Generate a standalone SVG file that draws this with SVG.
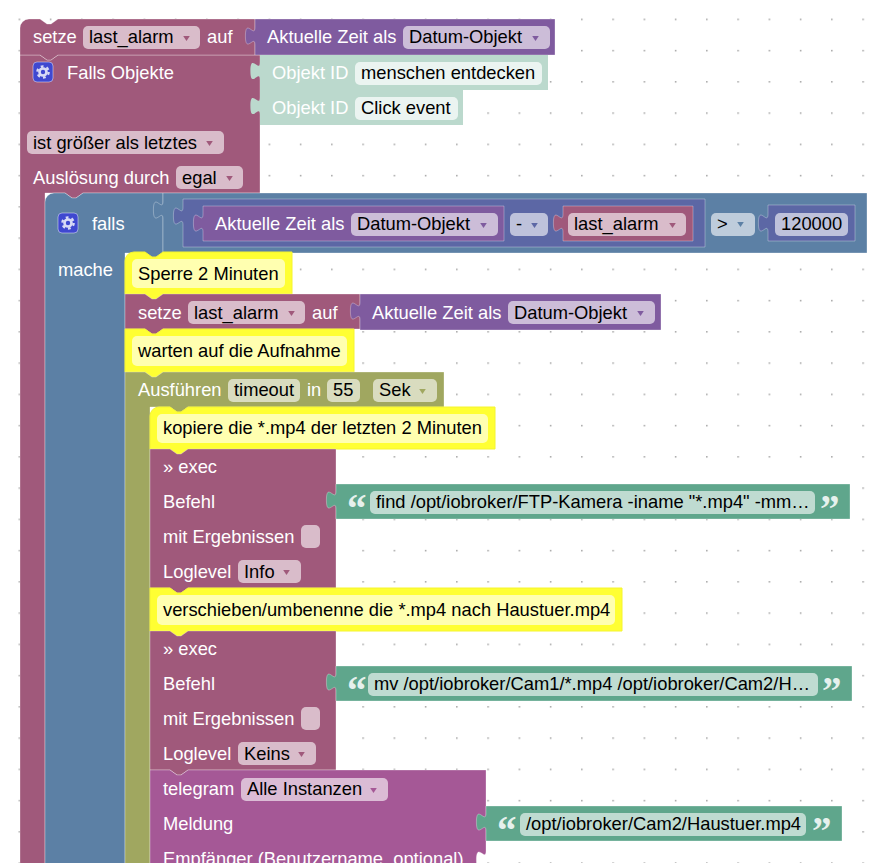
<svg xmlns="http://www.w3.org/2000/svg" width="889" height="863" viewBox="0 0 889 863">
<style>
text{font-family:"Liberation Sans",Arial,sans-serif;font-size:18.33px}
.w{fill:#fff}.k{fill:#000}
.b{stroke:#fff;stroke-opacity:.3;stroke-width:1}
.m{fill:#a0597b}.p{fill:#7f5b9f}.l{fill:#bbd9cd}.g{fill:#5fa68c}.u{fill:#5c80a5}.t{fill:#5c67a5}.o{fill:#a0a760}.v{fill:#a55896}
.y{fill:#ffff33;stroke:#f4f430;stroke-width:1}
.f{fill:#fff;fill-opacity:.6}
.c{fill:#ffffb0}
text.q{font-family:"Liberation Serif",serif;font-weight:bold;font-size:39px;fill:#fff;fill-opacity:.85}
.gb{fill:#3f48d0;stroke:#fff;stroke-opacity:.45}
</style>
<defs>
<pattern id="grid" patternUnits="userSpaceOnUse" x="18.6" y="18.6" width="31.25" height="31.25"><rect width="1.5" height="1.5" fill="#a0a0a0"/></pattern>
<g id="gear"><rect x="0" y="0" width="20" height="20" rx="4" class="gb"/><circle cx="10" cy="10" r="3.5" fill="none" stroke="#fff" stroke-opacity=".8" stroke-width="2.6"/><circle cx="10" cy="10" r="5.7" fill="none" stroke="#fff" stroke-opacity=".8" stroke-width="2.2" stroke-dasharray="2.8 3.17"/></g>
<path id="arr" d="M1.2,1h6.6l-3.3,5z"/>
</defs>
<rect width="889" height="863" fill="#fff"/>
<rect x="18" y="18" width="871" height="845" fill="url(#grid)"/>

<g id="connectors"></g>

<g id="falls-objekte">
<path class="m b" d="M20,55H40l7,5 4,0 7,-5H260V193H83l-7,5 -4,0 -7,-5H45V870H20Z"/>
<use href="#gear" x="33" y="62"/>
<text class="w" x="67" y="79">Falls Objekte</text>
<rect class="f" x="27" y="131" width="197" height="23" rx="5"/>
<text class="k" x="33" y="149">ist größer als letztes</text>
<use href="#arr" x="205" y="140" fill="#a0597b"/>
<text class="w" x="33" y="184">Auslösung durch</text>
<rect class="f" x="176" y="166" width="67" height="23" rx="5"/>
<text class="k" x="182" y="184">egal</text>
<use href="#arr" x="225" y="175" fill="#a0597b"/>
</g>

<g id="setze-1">
<path class="m b" d="M29,19H40l7,5 4,0 7,-5H255V55H58l-7,5 -4,0 -7,-5H20V28A9,9 0 0 1 29,19Z"/>
<text class="w" x="33" y="43">setze</text>
<rect class="f" x="83" y="26" width="117" height="23" rx="5"/>
<text class="k" x="89" y="43">last_alarm</text>
<use href="#arr" x="182" y="35" fill="#a0597b"/>
<text class="w" x="207" y="43">auf</text>
</g>
<g id="zeit-1">
<path class="p b" d="M255,19H555V55H255V45c0,-11.5 -9.6,9.6 -9.6,-9 s9.6,3 9.6,-9Z"/>
<text class="w" x="267" y="43">Aktuelle Zeit als</text>
<rect class="f" x="403" y="26" width="147" height="23" rx="5"/>
<text class="k" x="409" y="43">Datum-Objekt</text>
<use href="#arr" x="531" y="35" fill="#7f5b9f"/>
</g>

<g id="objekt-1">
<path class="l" d="M260,55H548V90H260V80c0,-11.5 -9.6,9.6 -9.6,-9 s9.6,3 9.6,-9Z"/>
<text class="w" x="272" y="79">Objekt ID</text>
<rect x="355" y="62" width="187" height="23" rx="5" fill="#ebf4f1"/>
<text class="k" x="361" y="79">menschen entdecken</text>
</g>
<g id="objekt-2">
<path class="l" d="M260,90H463V125H260V115c0,-11.5 -9.6,9.6 -9.6,-9 s9.6,3 9.6,-9Z"/>
<text class="w" x="272" y="114">Objekt ID</text>
<rect x="355" y="97" width="103" height="23" rx="5" fill="#ebf4f1"/>
<text class="k" x="361" y="114">Click event</text>
</g>

<g id="falls">
<path class="u b" d="M54,193H65l7,5 4,0 7,-5H163V253H163l-7,5 -4,0 -7,-5H125V870H45V202A9,9 0 0 1 54,193Z"/>
<use href="#gear" x="58" y="213"/>
<text class="w" x="92" y="230">falls</text>
<text class="w" x="58" y="276">mache</text>
</g>
<g id="vergleich">
<path class="u b" d="M163,193H867V253H163V219c0,-11.5 -9.6,9.6 -9.6,-9 s9.6,3 9.6,-9Z"/>
<path class="t b" d="M183,199H705V247H183V225c0,-11.5 -9.6,9.6 -9.6,-9 s9.6,3 9.6,-9Z"/>
<path class="p b" d="M203,206H504V241H203V232c0,-11.5 -9.6,9.6 -9.6,-9 s9.6,3 9.6,-9Z"/>
<text class="w" x="215" y="230">Aktuelle Zeit als</text>
<rect class="f" x="351" y="213" width="147" height="23" rx="5"/>
<text class="k" x="357" y="230">Datum-Objekt</text>
<use href="#arr" x="479" y="222" fill="#7f5b9f"/>
<rect class="f" x="510" y="213" width="38" height="23" rx="5"/>
<text class="k" x="516" y="230">-</text>
<use href="#arr" x="530" y="222" fill="#5c67a5"/>
<path class="m b" d="M563,206H693V241H563V232c0,-11.5 -9.6,9.6 -9.6,-9 s9.6,3 9.6,-9Z"/>
<rect class="f" x="568" y="213" width="118" height="23" rx="5"/>
<text class="k" x="574" y="230">last_alarm</text>
<use href="#arr" x="668" y="222" fill="#a0597b"/>
<rect class="f" x="711" y="213" width="44" height="23" rx="5"/>
<text class="k" x="717" y="230">&gt;</text>
<use href="#arr" x="736" y="221" fill="#5c80a5"/>
<path class="t b" d="M768,205H855V241H768V232c0,-11.5 -9.6,9.6 -9.6,-9 s9.6,3 9.6,-9Z"/>
<rect class="f" x="775" y="213" width="73" height="23" rx="5"/>
<text class="k" x="781" y="230">120000</text>
</g>

<g id="kommentar-1">
<path class="y" d="M134,252H145l7,5 4,0 7,-5H292V294H163l-7,5 -4,0 -7,-5H125V261A9,9 0 0 1 134,252Z"/>
<rect class="c" x="132" y="259" width="153" height="29" rx="5"/>
<text class="k" x="138" y="279.5">Sperre 2 Minuten</text>
</g>

<g id="setze-2">
<path class="m b" d="M125,294H145l7,5 4,0 7,-5H360V329H163l-7,5 -4,0 -7,-5H125Z"/>
<text class="w" x="138" y="318.5">setze</text>
<rect class="f" x="188" y="301" width="117" height="23" rx="5"/>
<text class="k" x="194" y="318.5">last_alarm</text>
<use href="#arr" x="287" y="310" fill="#a0597b"/>
<text class="w" x="312" y="318.5">auf</text>
</g>
<g id="zeit-2">
<path class="p b" d="M360,294H661V330H360V320c0,-11.5 -9.6,9.6 -9.6,-9 s9.6,3 9.6,-9Z"/>
<text class="w" x="372" y="318.5">Aktuelle Zeit als</text>
<rect class="f" x="508" y="301" width="147" height="23" rx="5"/>
<text class="k" x="514" y="318.5">Datum-Objekt</text>
<use href="#arr" x="636" y="310" fill="#7f5b9f"/>
</g>

<g id="kommentar-2">
<path class="y" d="M125,329H145l7,5 4,0 7,-5H354V372H163l-7,5 -4,0 -7,-5H125Z"/>
<rect class="c" x="132" y="336" width="215" height="30" rx="5"/>
<text class="k" x="138" y="356.5">warten auf die Aufnahme</text>
</g>

<g id="ausfuehren">
<path class="o b" d="M125,372H145l7,5 4,0 7,-5H444V407H188l-7,5 -4,0 -7,-5H150V870H125Z"/>
<text class="w" x="138" y="396">Ausführen</text>
<rect class="f" x="228" y="379" width="72" height="23" rx="5"/>
<text class="k" x="234" y="396">timeout</text>
<text class="w" x="307" y="396">in</text>
<rect class="f" x="327" y="379" width="33" height="23" rx="5"/>
<text class="k" x="333" y="396">55</text>
<rect class="f" x="373" y="379" width="64" height="23" rx="5"/>
<text class="k" x="379" y="396">Sek</text>
<use href="#arr" x="418" y="388" fill="#a0a760"/>
</g>

<g id="kommentar-3">
<path class="y" d="M159,407H170l7,5 4,0 7,-5H495V449H188l-7,5 -4,0 -7,-5H150V416A9,9 0 0 1 159,407Z"/>
<rect class="c" x="157" y="414" width="331" height="29" rx="5"/>
<text class="k" x="163" y="433.5">kopiere die *.mp4 der letzten 2 Minuten</text>
</g>

<g id="exec-1">
<path class="m b" d="M150,449H170l7,5 4,0 7,-5H336V588H188l-7,5 -4,0 -7,-5H150Z"/>
<text class="w" x="163" y="473">» exec</text>
<text class="w" x="163" y="508">Befehl</text>
<text class="w" x="163" y="543">mit Ergebnissen</text>
<rect class="f" x="301" y="525" width="19" height="23" rx="5"/>
<text class="w" x="163" y="578">Loglevel</text>
<rect class="f" x="238" y="560" width="63" height="23" rx="5"/>
<text class="k" x="244" y="578">Info</text>
<use href="#arr" x="282" y="569" fill="#a0597b"/>
</g>
<g id="text-1">
<path class="g b" d="M336,484H850V519H336V509c0,-11.5 -9.6,9.6 -9.6,-9 s9.6,3 9.6,-9Z"/>
<text class="q" x="347" y="522">“</text>
<rect class="f" x="370" y="491" width="445" height="23" rx="5"/>
<text class="k" x="376" y="508">find /opt/iobroker/FTP-Kamera -iname "*.mp4" -mm…</text>
<text class="q" x="820" y="522">”</text>
</g>

<g id="kommentar-4">
<path class="y" d="M150,588H170l7,5 4,0 7,-5H622V631H188l-7,5 -4,0 -7,-5H150Z"/>
<rect class="c" x="157" y="595" width="458" height="30" rx="5"/>
<text class="k" x="163" y="615.5">verschieben/umbenenne die *.mp4 nach Haustuer.mp4</text>
</g>

<g id="exec-2">
<path class="m b" d="M150,631H170l7,5 4,0 7,-5H336V770H188l-7,5 -4,0 -7,-5H150Z"/>
<text class="w" x="163" y="655">» exec</text>
<text class="w" x="163" y="690">Befehl</text>
<text class="w" x="163" y="725">mit Ergebnissen</text>
<rect class="f" x="301" y="707" width="19" height="23" rx="5"/>
<text class="w" x="163" y="760">Loglevel</text>
<rect class="f" x="238" y="742" width="78" height="23" rx="5"/>
<text class="k" x="244" y="760">Keins</text>
<use href="#arr" x="297" y="751" fill="#a0597b"/>
</g>
<g id="text-2">
<path class="g b" d="M336,666H852V701H336V691c0,-11.5 -9.6,9.6 -9.6,-9 s9.6,3 9.6,-9Z"/>
<text class="q" x="347" y="704">“</text>
<rect class="f" x="368" y="673" width="450" height="23" rx="5"/>
<text class="k" x="374" y="690">mv /opt/iobroker/Cam1/*.mp4 /opt/iobroker/Cam2/H…</text>
<text class="q" x="822" y="704">”</text>
</g>

<g id="telegram">
<path class="v b" d="M150,770H170l7,5 4,0 7,-5H486V851c0,11.5 -9.6,-9.6 -9.6,9 s9.6,-3 9.6,9V875H150Z"/>
<text class="w" x="163" y="795">telegram</text>
<rect class="f" x="241" y="778" width="147" height="23" rx="5"/>
<text class="k" x="247" y="795">Alle Instanzen</text>
<use href="#arr" x="369" y="787" fill="#a55896"/>
<text class="w" x="163" y="830">Meldung</text>
<text class="w" x="163" y="865">Empfänger (Benutzername, optional)</text>
</g>
<g id="text-3">
<path class="g b" d="M486,806H842V841H486V831c0,-11.5 -9.6,9.6 -9.6,-9 s9.6,3 9.6,-9Z"/>
<text class="q" x="497" y="844">“</text>
<rect class="f" x="520" y="813" width="286" height="23" rx="5"/>
<text class="k" x="526" y="830">/opt/iobroker/Cam2/Haustuer.mp4</text>
<text class="q" x="812" y="844">”</text>
</g>
</svg>
